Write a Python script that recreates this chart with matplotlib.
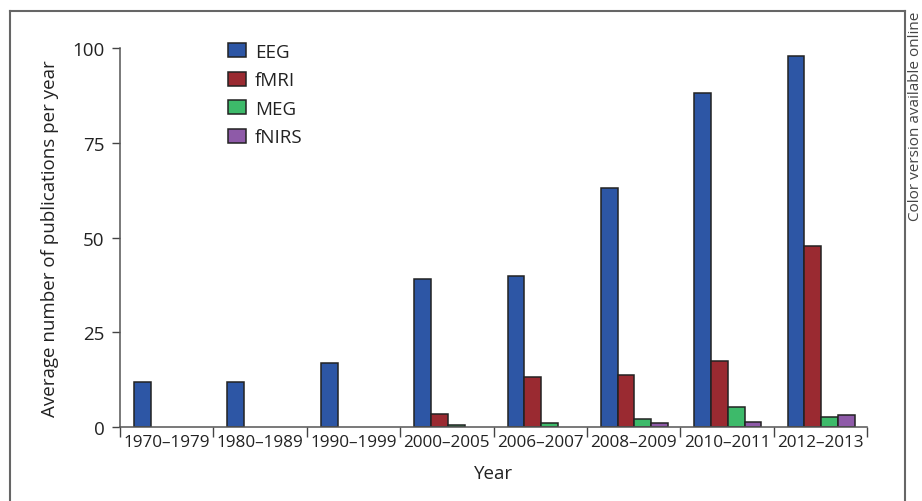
import matplotlib.pyplot as plt
from matplotlib.lines import Line2D
import numpy as np

plt.rcParams['font.family'] = ['Open Sans', 'DejaVu Sans']

periods = ['1970–1979', '1980–1989', '1990–1999', '2000–2005',
           '2006–2007', '2008–2009', '2010–2011', '2012–2013']
eeg = [12, 12, 17, 39, 39.8, 63, 88, 98]
fmri = [0, 0, 0, 3.5, 13.1, 13.6, 17.3, 47.7]
meg = [0, 0, 0, 0.6, 1.1, 2.0, 5.3, 2.6]
fnirs = [0, 0, 0, 0, 0, 1.1, 1.4, 3.1]

series = [('EEG', eeg, '#2d56a5'), ('fMRI', fmri, '#9a2a31'),
          ('MEG', meg, '#3dba6a'), ('fNIRS', fnirs, '#8e5aa8')]

fig = plt.figure(figsize=(9.22, 5.02), dpi=100)
ax = fig.add_axes([120 / 922, 1 - 428 / 502, 747 / 922, 379 / 502])

x = np.arange(len(periods))
w = 0.18
for k, (name, vals, col) in enumerate(series):
    mask = np.array(vals) > 0
    ax.bar(x[mask] + 0.15 + w * k, np.array(vals)[mask], width=w, align='edge',
           color=col, edgecolor='#222222', linewidth=1.1, label=name)

ax.set_xlim(0, 8)
ax.set_ylim(0, 100)
ax.set_yticks([0, 25, 50, 75, 100])
ax.set_xticks(np.arange(9))
ax.set_xticklabels([])
ax.set_xticks(x + 0.5, minor=True)
ax.set_xticklabels(periods, minor=True)
ax.tick_params(axis='x', which='major', direction='out', length=7.5, color='#444444', width=1)
ax.tick_params(axis='x', which='minor', length=0, pad=5, labelsize=12.3, labelcolor='#222222')
ax.tick_params(axis='y', direction='out', length=6, color='#444444', width=1,
               labelsize=13.5, labelcolor='#222222', pad=5)
for s in ['top', 'right']:
    ax.spines[s].set_visible(False)
for s in ['left', 'bottom']:
    ax.spines[s].set_color('#555555')
    ax.spines[s].set_linewidth(1.1)

ax.set_ylabel('Average number of publications per year', fontsize=13.5, color='#222222', labelpad=10)
ax.set_xlabel('Year', fontsize=13.5, color='#222222', labelpad=10)

ax.legend(loc='upper left', bbox_to_anchor=(211 / 922, 1 - 27 / 502),
          bbox_transform=fig.transFigure, frameon=False, fontsize=13.5,
          handlelength=0.95, handleheight=0.75, handletextpad=0.5, labelspacing=0.56,
          labelcolor='#222222')

# outer frame
fc = '#666666'
fig.add_artist(Line2D([10 / 922, 10 / 922], [0, 1 - 12 / 502], transform=fig.transFigure, color=fc, lw=1.5))
fig.add_artist(Line2D([10 / 922, 905 / 922], [1 - 12 / 502, 1 - 12 / 502], transform=fig.transFigure, color=fc, lw=1.5))
fig.add_artist(Line2D([905 / 922, 905 / 922], [0, 1 - 12 / 502], transform=fig.transFigure, color=fc, lw=1.5))
fig.text(915 / 922, 1 - 12 / 502, 'Color version available online', rotation=90,
         ha='center', va='top', fontsize=11, color='#444444')

fig.savefig('out.png', dpi=100)
